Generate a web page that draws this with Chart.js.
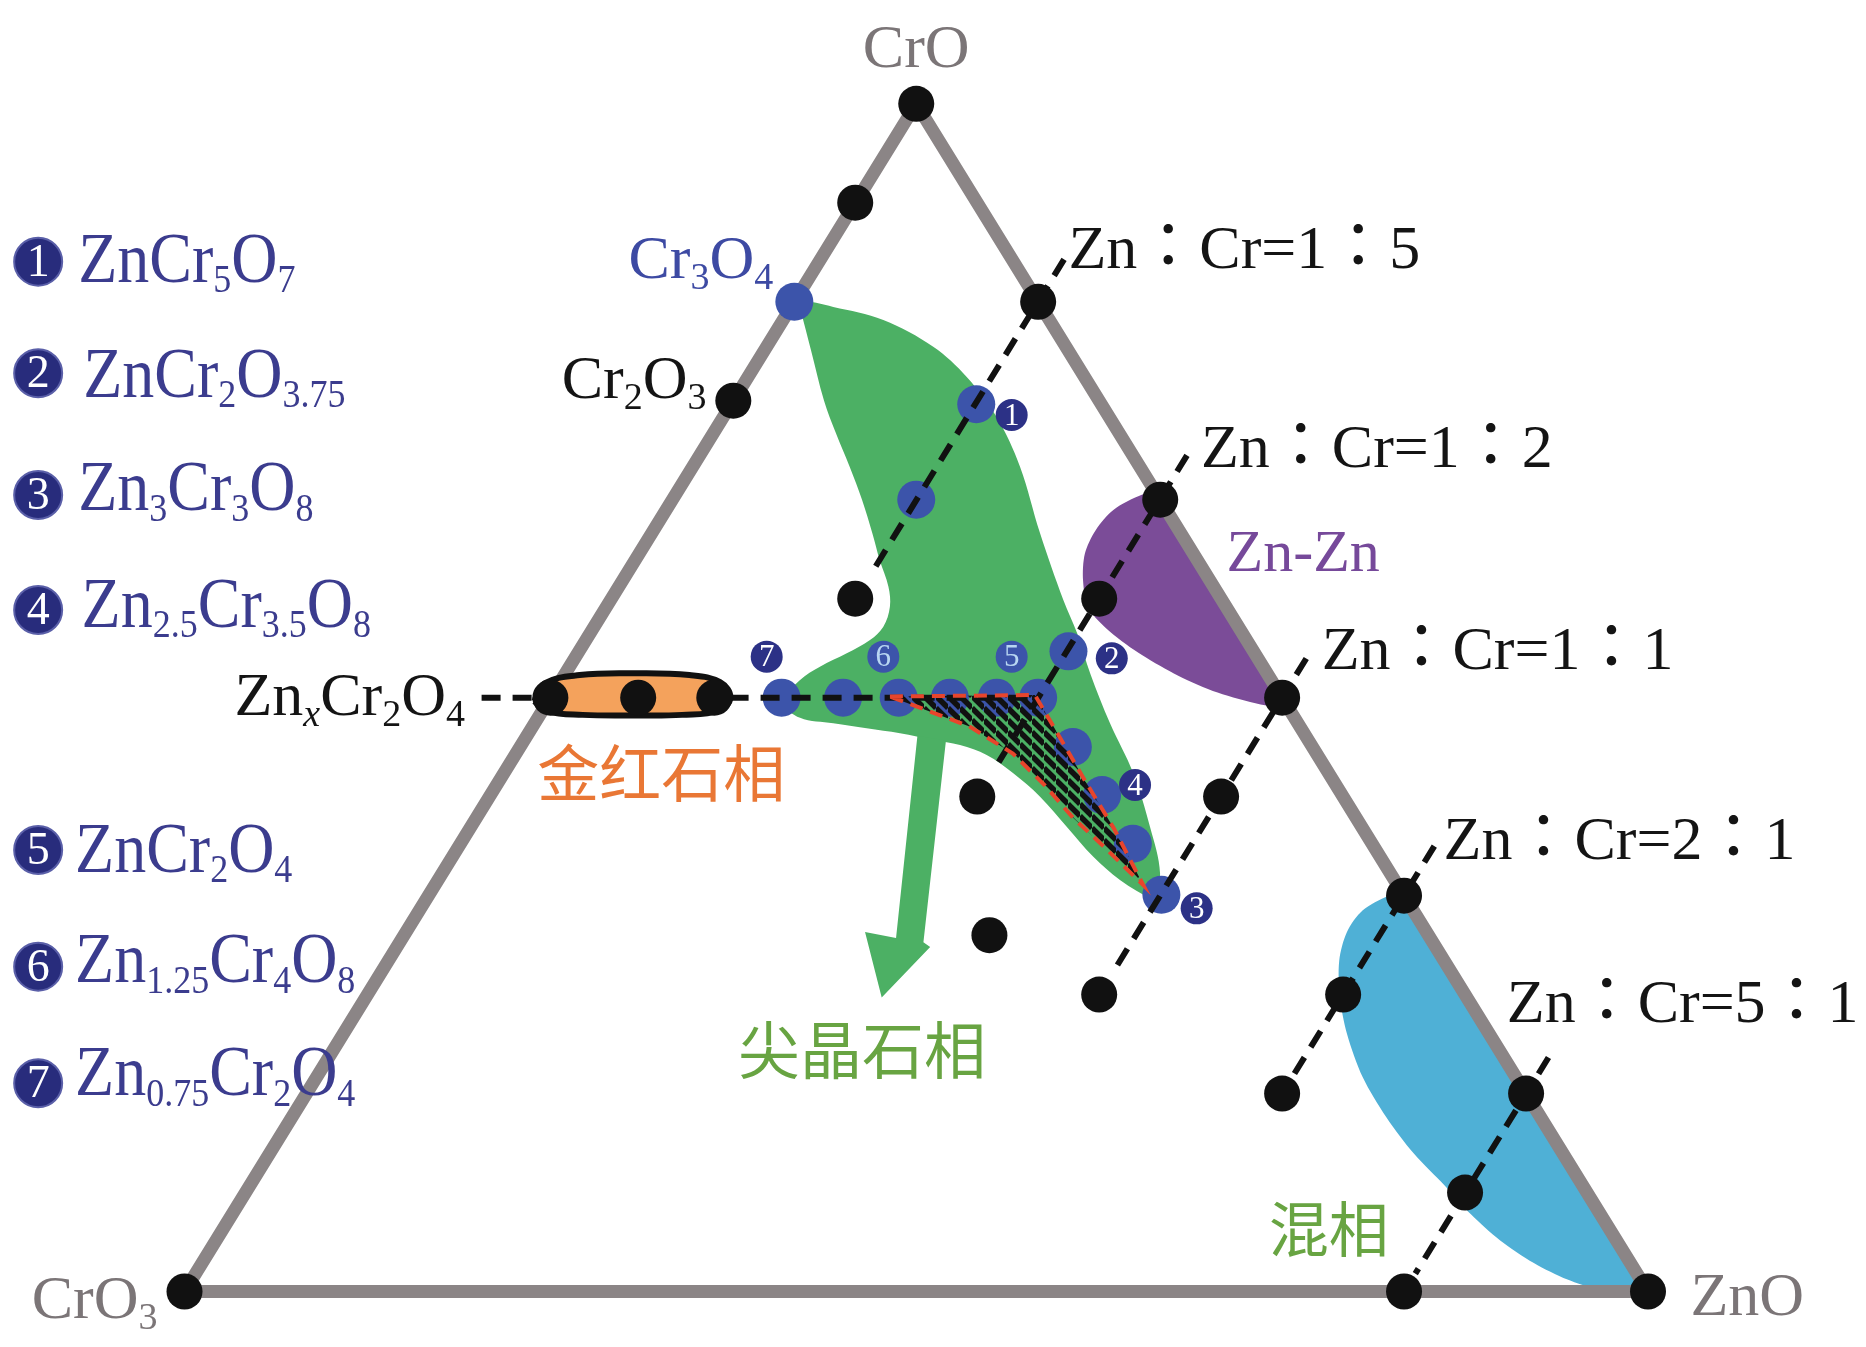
<!DOCTYPE html>
<html>
<head>
<meta charset="utf-8">
<title>ZnO–CrO–CrO3 phase diagram</title>
<script src="https://cdn.jsdelivr.net/npm/chart.js@4.4.1/dist/chart.umd.min.js"></script>
<style>
  html, body { margin: 0; padding: 0; background: #fff; }
  #wrap { width: 1866px; height: 1347px; position: relative; }
</style>
</head>
<body>
<div id="wrap"><canvas id="ternary"></canvas></div>
<script>
/* ── Frame: x 0 → 100 along CrO3 → ZnO, y 0 → 100 up to the CrO apex ── */

/* triangle outline */
const triangleEdge = [{x:0,y:0},{x:100,y:0},{x:50,y:100},{x:0,y:0}];

/* black composition points (vertices, ratio-line points, rutile points) */
const blackDots = [
  {x:0,y:0},{x:100,y:0},{x:50,y:100},
  {x:45.83,y:91.67},{x:37.5,y:75},
  {x:25,y:50},{x:31,y:50},{x:36.2,y:50},
  {x:58.33,y:83.33},{x:66.67,y:66.67},{x:75,y:50},{x:83.33,y:33.33},{x:91.67,y:16.67},
  {x:83.33,y:0},
  {x:45.83,y:58.33},{x:62.5,y:58.33},{x:54.17,y:41.67},{x:70.83,y:41.67},
  {x:55,y:30},{x:62.5,y:25},{x:79.17,y:25},{x:75,y:16.67},{x:87.5,y:8.33}
];

/* blue (spinel) points */
const blueDots = [
  {x:41.67,y:83.33},{x:54.1,y:74.7},{x:50,y:66.67},{x:60.4,y:53.9},
  {x:40.8,y:50},{x:45.0,y:50},{x:48.8,y:50},{x:52.3,y:50},{x:55.5,y:50},{x:58.33,y:50},
  {x:60.7,y:45.85},{x:62.7,y:41.8},{x:64.8,y:37.7},{x:66.75,y:33.4}
];

/* numbered markers */
const badgeNavy       = [{x:56.52,y:73.8},{x:63.36,y:53.31},{x:69.16,y:32.26},{x:64.95,y:42.65},{x:39.78,y:53.45}];
const badgeNavyLabels = ['1','2','3','4','7'];
const badgePale       = [{x:56.52,y:53.45},{x:47.75,y:53.45}];
const badgePaleLabels = ['5','6'];

/* Zn:Cr = const lines + ZnxCr2O4 line */
const line15   = [{x:60.1,y:86.9},{x:47.2,y:61.0}];
const line12   = [{x:68.5,y:70.4},{x:55.6,y:44.5}];
const line11   = [{x:76.65,y:53.3},{x:63.45,y:26.9}];
const line21   = [{x:85.4,y:37.5},{x:74.67,y:16.0}];
const line51   = [{x:93.2,y:19.7},{x:84.1,y:1.5}];
const lineZnx  = [{x:20.3,y:50},{x:58.1,y:50}];

/* spinel (green) field outline */
const spinelRegion = [
  {x:66.2,y:32.9},{x:63.92,y:34.65},{x:62.1,y:36.6},{x:60.28,y:39.13},{x:58.46,y:41.66},
  {x:56.63,y:43.63},{x:54.81,y:45.17},{x:52.99,y:46.01},{x:51.16,y:46.43},{x:48.89,y:47.0},
  {x:46.61,y:47.42},{x:44.33,y:47.84},{x:42.06,y:48.3},{x:40.9,y:49.6},
  {x:42.06,y:51.48},{x:43.42,y:52.6},{x:45.25,y:53.73},{x:46.84,y:54.85},{x:47.75,y:55.97},
  {x:48.2,y:57.66},{x:48.1,y:59.34},{x:47.5,y:61.59},{x:47.0,y:63.84},{x:46.3,y:66.64},
  {x:45.45,y:69.45},{x:44.5,y:72.3},{x:43.7,y:75.0},{x:42.8,y:79.3},{x:42.1,y:82.6},
  {x:41.9,y:83.4},{x:44.33,y:82.9},{x:47.75,y:81.8},{x:51.16,y:79.55},{x:53.45,y:77.0},
  {x:55.5,y:73.6},{x:57.09,y:69.45},{x:58.46,y:63.84},{x:60.05,y:58.22},{x:61.0,y:55.4},
  {x:61.9,y:52.0},{x:63.24,y:47.84},{x:64.83,y:43.63},{x:65.97,y:39.13},{x:66.66,y:35.2},
  {x:66.2,y:32.9}
];
const spinelArrow = [
  {x:50.08,y:46.8},{x:52.03,y:46.4},{x:50.49,y:29.4},{x:50.95,y:29.0},
  {x:47.64,y:24.75},{x:46.5,y:30.26},{x:48.62,y:29.76},{x:50.08,y:46.8}
];

/* Zn-Zn (purple) field */
const znZnRegion = [
  {x:74.76,y:49.28},{x:73.53,y:49.43},{x:70.59,y:50.43},{x:67.9,y:51.85},{x:65.45,y:53.56},
  {x:63.24,y:55.55},{x:61.77,y:57.55},{x:61.4,y:59.83},{x:61.52,y:62.11},{x:62.26,y:64.1},
  {x:63.49,y:65.82},{x:65.45,y:67.1},{x:66.4,y:67.2},{x:70.8,y:58.4},{x:75.3,y:49.4},
  {x:74.76,y:49.28}
];

/* mixed-phase (cyan) field */
const mixedRegion = [
  {x:100,y:0},{x:96.5,y:0.25},{x:94.5,y:1.0},{x:92.2,y:2.4},{x:89.9,y:4.3},
  {x:87.9,y:6.5},{x:86.15,y:8.87},{x:84.0,y:11.62},{x:82.12,y:14.68},{x:80.51,y:18.04},
  {x:79.43,y:21.71},{x:78.95,y:24.77},{x:78.9,y:27.83},{x:79.43,y:30.27},{x:80.51,y:32.1},
  {x:82.26,y:33.33},{x:83.2,y:33.6},{x:91.67,y:16.67},{x:100,y:0}
];

/* rutile lens */
const rutileLens = [
  {x:23.9,y:49.7},{x:24.6,y:51.2},{x:27,y:51.9},{x:30.7,y:52.05},{x:34.5,y:51.9},
  {x:36.6,y:51.3},{x:37.3,y:50.0},{x:36.5,y:48.9},{x:34,y:48.55},{x:30.7,y:48.5},
  {x:27.2,y:48.55},{x:24.8,y:48.85},{x:23.9,y:49.7}
];

/* hatched single-phase spinel triangle */
const hatchTriangle = [
  {x:48.2,y:50.1},{x:58.11,y:50.22},{x:59.6,y:47.1},{x:61.5,y:43.07},{x:63.5,y:39.0},
  {x:65.52,y:34.2},{x:62.7,y:37.6},{x:60.7,y:39.9},{x:58.8,y:42.6},{x:56.6,y:45.3},
  {x:53.6,y:47.6},{x:48.2,y:50.1}
];

/* legend */
const legendNumbers  = ['1','2','3','4','5','6','7'];
const legendFormulas = ['ZnCr{5}O{7}','ZnCr{2}O{3.75}','Zn{3}Cr{3}O{8}','Zn{2.5}Cr{3.5}O{8}',
                        'ZnCr{2}O{4}','Zn{1.25}Cr{4}O{8}','Zn{0.75}Cr{2}O{4}'];

/* ── layout / style ───────────────────────────────────────── */
const X_MIN = -12.607, X_MAX = 114.896, Y_MIN = -4.673, Y_MAX = 108.74;
const SERIF = "'Liberation Serif','Times New Roman','Noto Sans CJK JP',serif";
const CJK   = "'Noto Sans CJK SC','Noto Sans CJK JP',sans-serif";
const GREY = '#7b7577', INK = '#141414', NAVY = '#2c3186', DOT_BLUE = '#3c54aa';

const legendLayout = [
  {by:86.71, tx:-7.26, ty:85.02}, {by:77.31, tx:-6.92, ty:75.34},
  {by:67.06, tx:-7.26, ty:65.80}, {by:57.38, tx:-7.03, ty:55.97},
  {by:37.17, tx:-7.48, ty:35.35}, {by:27.35, tx:-7.48, ty:26.08},
  {by:17.53, tx:-7.48, ty:16.54}
];

const textLabels = [
  {t:'CrO',            x:50,     y:103.1, size:62, color:GREY, align:'center'},
  {t:'CrO{3}',         x:-10.44, y:-2.25, size:62, color:GREY},
  {t:'ZnO',            x:102.9,  y:-1.95, size:62, color:GREY},
  {t:'Cr{3}O{4}',      x:30.33,  y:85.3,  size:62, color:'#3d4aa3'},
  {t:'Cr{2}O{3}',      x:25.77,  y:75.2,  size:62, color:INK},
  {t:'Zn{x}Cr{2}O{4}', x:3.41,   y:48.5,  size:62, color:INK},
  {t:'Zn-Zn',          x:71.2,   y:60.7,  size:60, color:'#76499a'},
  {t:'Zn：Cr=1：5',    x:60.4,   y:86.2,  size:62, color:INK},
  {t:'Zn：Cr=1：2',    x:69.45,  y:69.45, size:62, color:INK},
  {t:'Zn：Cr=1：1',    x:77.7,   y:52.4,  size:62, color:INK},
  {t:'Zn：Cr=2：1',    x:86.03,  y:36.45, size:62, color:INK},
  {t:'Zn：Cr=5：1',    x:90.35,  y:22.7,  size:62, color:INK},
  {t:'金红石相',        x:24.1,   y:41.6,  size:62, color:'#e97735', family:CJK},
  {t:'尖晶石相',        x:37.82,  y:18.3,  size:62, color:'#68a442', family:CJK},
  {t:'混相',            x:74.08,  y:3.3,   size:60, color:'#68a442', family:CJK}
];

/* ── helpers ─────────────────────────────────────────────── */
function hatchPattern(ctx) {
  const s = 12, c = document.createElement('canvas');
  c.width = s; c.height = s;
  const g = c.getContext('2d');
  g.strokeStyle = '#111'; g.lineWidth = 5.5;
  for (let k = -1; k <= 1; k++) {
    g.beginPath(); g.moveTo(0, k * s); g.lineTo(s, s + k * s); g.stroke();
  }
  return ctx.createPattern(c, 'repeat');
}

function richText(ctx, str, x, y, size, color, o) {
  o = o || {};
  const fam = o.family || SERIF, subR = o.subRatio || 0.62, drop = o.drop || 0.17;
  const parts = [];
  let i = 0;
  while (i < str.length) {
    if (str[i] === '{') {
      const j = str.indexOf('}', i);
      parts.push({t: str.slice(i + 1, j), sub: true});
      i = j + 1;
    } else {
      let j = i;
      while (j < str.length && str[j] !== '{') j++;
      parts.push({t: str.slice(i, j), sub: false});
      i = j;
    }
  }
  const fontFor = p => (p.sub && /^[a-z]$/.test(p.t) ? 'italic ' : '') +
    (p.sub ? Math.round(size * subR) : size) + 'px ' + fam;
  ctx.save();
  ctx.fillStyle = color; ctx.textAlign = 'left'; ctx.textBaseline = 'alphabetic';
  let total = 0;
  parts.forEach(p => { ctx.font = fontFor(p); p.w = ctx.measureText(p.t).width; total += p.w; });
  ctx.translate(o.align === 'center' ? x - total / 2 : x, y);
  if (o.vScale) ctx.scale(1, o.vScale);
  let cx = 0;
  parts.forEach(p => {
    ctx.font = fontFor(p);
    ctx.fillText(p.t, cx, p.sub ? size * drop : 0);
    cx += p.w;
  });
  ctx.restore();
}

function shape(data, o) {
  return Object.assign({
    data, showLine: true, fill: false, pointRadius: 0, pointHoverRadius: 0,
    borderWidth: 0, borderColor: 'rgba(0,0,0,0)', tension: 0
  }, o);
}
function dashed(data) {
  return shape(data, {borderWidth: 6, borderColor: '#111', borderDash: [19, 12], borderCapStyle: 'butt'});
}
function dots(data, color, r, extra) {
  return Object.assign({
    data, showLine: false, pointRadius: r, pointHoverRadius: r,
    pointBackgroundColor: color, pointBorderWidth: 0, borderColor: color
  }, extra);
}

/* ── plugins ─────────────────────────────────────────────── */
const areaFill = {
  id: 'areaFill',
  beforeDatasetDraw(chart, args) {
    const ds = chart.data.datasets[args.index];
    if (!ds.areaColor && !ds.areaHatch) return;
    const line = args.meta.dataset, ctx = chart.ctx;
    ctx.save();
    ctx.beginPath();
    if (line && typeof line.path === 'function') {
      if (line.updateControlPoints) line.updateControlPoints(chart.chartArea, 'x');
      line.path(ctx);
    } else {
      args.meta.data.forEach((p, i) => i ? ctx.lineTo(p.x, p.y) : ctx.moveTo(p.x, p.y));
    }
    ctx.closePath();
    if (ds.areaColor) { ctx.fillStyle = ds.areaColor; ctx.fill(); }
    if (ds.areaHatch) { ctx.fillStyle = hatchPattern(ctx); ctx.fill(); }
    ctx.restore();
  }
};

const annotate = {
  id: 'annotate',
  afterDatasetsDraw(chart) {
    const ctx = chart.ctx;
    chart.data.datasets.forEach((ds, i) => {
      if (!ds.badgeLabels) return;
      chart.getDatasetMeta(i).data.forEach((pt, k) => {
        ctx.save();
        ctx.fillStyle = ds.badgeText;
        ctx.font = '31px ' + SERIF;
        ctx.textAlign = 'center'; ctx.textBaseline = 'middle';
        ctx.fillText(ds.badgeLabels[k], pt.x, pt.y + 1.5);
        ctx.restore();
      });
    });
  },
  afterDraw(chart) {
    const ctx = chart.ctx, sx = chart.scales.x, sy = chart.scales.y;
    const px = v => sx.getPixelForValue(v), py = v => sy.getPixelForValue(v);

    textLabels.forEach(l => richText(ctx, l.t, px(l.x), py(l.y), l.size, l.color,
      {align: l.align, family: l.family}));

    legendLayout.forEach((g, i) => {
      const cx = px(-10.0), cy = py(g.by);
      ctx.save();
      ctx.beginPath(); ctx.arc(cx, cy, 24, 0, Math.PI * 2);
      ctx.fillStyle = '#282c7c'; ctx.fill();
      ctx.lineWidth = 2; ctx.strokeStyle = '#5a5fa8'; ctx.stroke();
      ctx.fillStyle = '#fff'; ctx.font = '46px ' + SERIF;
      ctx.textAlign = 'center'; ctx.textBaseline = 'middle';
      ctx.fillText(legendNumbers[i], cx, cy + 2);
      ctx.restore();
      richText(ctx, legendFormulas[i], px(g.tx), py(g.ty), 64, '#3b3c8e',
        {subRatio: 0.56, drop: 0.15, vScale: 1.12});
    });
  }
};

/* ── datasets, bottom layer first ────────────────────────── */
const datasets = [
  shape(spinelRegion, {areaColor: '#4cb064', tension: 0.35}),
  shape(spinelArrow,  {areaColor: '#4cb064'}),
  shape(znZnRegion,   {areaColor: '#7b4c98', tension: 0.3}),
  shape(mixedRegion,  {areaColor: '#4fb0d6', tension: 0.3}),
  shape(triangleEdge, {borderWidth: 13, borderColor: '#8b8586', borderJoinStyle: 'round'}),
  dots(blueDots, DOT_BLUE, 19),
  dashed(line15), dashed(line12), dashed(line11), dashed(line21), dashed(line51), dashed(lineZnx),
  shape(hatchTriangle, {areaHatch: true, borderWidth: 4, borderColor: '#e8452c', borderDash: [13, 8]}),
  shape(rutileLens,   {areaColor: '#f4a25c', borderWidth: 6, borderColor: '#111', tension: 0.4}),
  dots(blackDots, '#111', 18),
  dots(badgeNavy, NAVY, 16, {badgeLabels: badgeNavyLabels, badgeText: '#ffffff'}),
  dots(badgePale, DOT_BLUE, 16, {badgeLabels: badgePaleLabels, badgeText: '#b8d6f2'})
];
datasets.forEach((d, i) => { d.order = datasets.length - i; });

new Chart(document.getElementById('ternary'), {
  type: 'line',
  data: { datasets },
  options: {
    responsive: true,
    maintainAspectRatio: false,
    animation: false,
    events: [],
    layout: { padding: 0, autoPadding: false },
    plugins: { legend: { display: false }, tooltip: { enabled: false } },
    scales: {
      x: { type: 'linear', min: X_MIN, max: X_MAX, display: false },
      y: { type: 'linear', min: Y_MIN, max: Y_MAX, display: false }
    }
  },
  plugins: [areaFill, annotate]
});
</script>
</body>
</html>
